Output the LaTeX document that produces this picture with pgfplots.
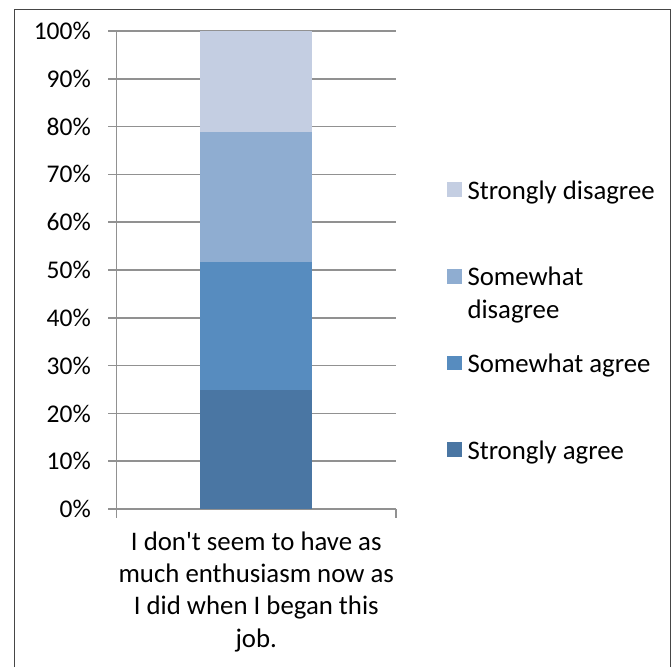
\documentclass[border=0pt]{standalone}
\usepackage{pgfplots}
\pgfplotsset{compat=1.18}
\usepackage{fontspec}
\setmainfont{Carlito}

\definecolor{sagree}{RGB}{74,118,163}
\definecolor{wagree}{RGB}{87,140,191}
\definecolor{wdisagree}{RGB}{143,173,209}
\definecolor{sdisagree}{RGB}{196,206,226}
\definecolor{gridgray}{RGB}{145,145,145}
\definecolor{framegray}{RGB}{70,70,70}

\newcommand{\tickfont}{\fontsize{25.5pt}{31.5pt}\selectfont}
\newcommand{\chartfont}{\fontsize{26.8pt}{32.3pt}\selectfont}

\begin{document}
\begin{tikzpicture}
\useasboundingbox (0pt,0pt) rectangle (671pt,-667pt);
% chart frame
\draw[framegray, line width=1.2pt] (14.5pt,-667pt) -- (14.5pt,-9.5pt) -- (670.3pt,-9.5pt) -- (670.3pt,-667pt);

\begin{axis}[
  at={(116.5pt,-509pt)}, anchor=south west,
  scale only axis, width=279.5pt, height=478pt,
  ybar stacked, bar width=0.4,
  xmin=-0.5, xmax=0.5,
  ymin=0, ymax=100,
  ytick={0,10,...,100},
  yticklabel={\pgfmathprintnumber{\tick}\%},
  /pgf/number format/assume math mode=true,
  axis lines*=left,
  axis line style={gridgray, line width=1.6pt},
  ymajorgrids,
  grid style={gridgray, line width=1.6pt},
  tick align=outside,
  major tick length=8.5pt,
  tick style={gridgray, line width=1.6pt},
  xtick={-0.5,0.5},
  xticklabels={},
  extra x ticks={0},
  extra x tick labels={I don\textquotesingle t seem to have as\\much enthusiasm now as\\I did when I began this\\job.},
  extra x tick style={tick style={draw=none}, grid=none},
  x tick label style={align=center, font=\chartfont, inner sep=0pt, anchor=north, yshift=-14pt},
  y tick label style={font=\tickfont, inner sep=0pt, anchor=east, xshift=-17pt},
  legend style={draw=none, fill=none, at={(1,1)}, anchor=north west,
    xshift=51pt, yshift=-148pt, inner sep=0pt, outer sep=0pt,
    row sep=66.7pt, column sep=6pt, font=\chartfont,
    nodes={inner sep=0pt, text height=20pt, text depth=0pt},
    cells={anchor=base west}},
  legend image code/.code={\fill[#1] (0pt,2pt) rectangle (14.5pt,16.7pt);},
  reverse legend,
]
\addplot[fill=sagree, draw=none] coordinates {(0,25.0)};
\addplot[fill=wagree, draw=none] coordinates {(0,26.7)};
\addplot[fill=wdisagree, draw=none] coordinates {(0,27.2)};
\addplot[fill=sdisagree, draw=none] coordinates {(0,21.1)};
\legend{Strongly agree, Somewhat agree,
  {\begin{tabular}[t]{@{}l@{}}Somewhat\\disagree\end{tabular}},
  Strongly disagree}
\end{axis}
\end{tikzpicture}
\end{document}
